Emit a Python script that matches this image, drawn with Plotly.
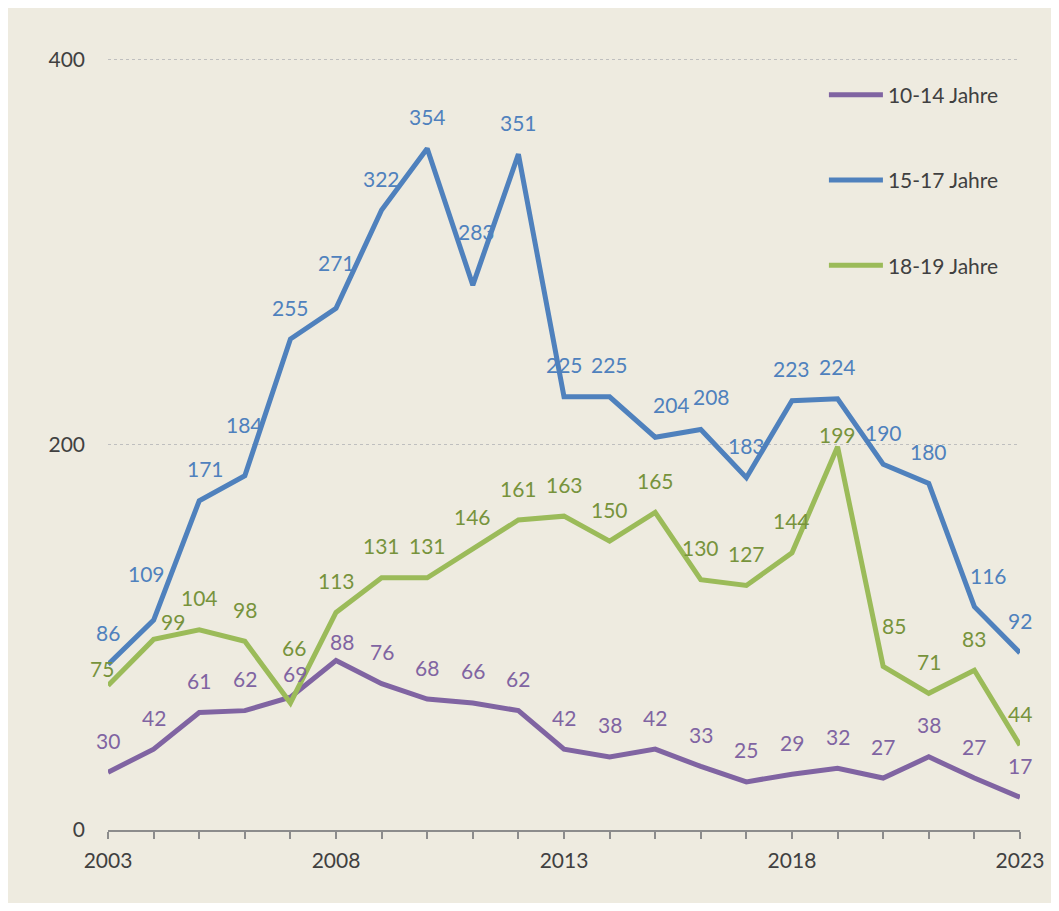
import plotly.graph_objects as go

years = list(range(2003, 2024))
series_names = ["10-14 Jahre", "15-17 Jahre", "18-19 Jahre"]
v_10_14 = [30, 42, 61, 62, 69, 88, 76, 68, 66, 62, 42, 38, 42, 33, 25, 29, 32, 27, 38, 27, 17]
v_15_17 = [86, 109, 171, 184, 255, 271, 322, 354, 283, 351, 225, 225, 204, 208, 183, 223, 224, 190, 180, 116, 92]
v_18_19 = [75, 99, 104, 98, 66, 113, 131, 131, 146, 161, 163, 150, 165, 130, 127, 144, 199, 85, 71, 83, 44]
x_tick_vals = [2003, 2008, 2013, 2018, 2023]
y_tick_vals = [0, 200, 400]

# styling
line_colors = ["#8064A2", "#4F81BD", "#9BBB59"]
text_colors = ["#8064A2", "#4F81BD", "#77933C"]
FONT = "Lato"
LABEL_SIZE = 21

# label offsets in pixels (dx right, dy up) per point
off_10_14 = [(0, 32)] * 21
off_10_14[4] = (5, 24)
off_10_14[5] = (6, 19)
off_15_17 = [(0, 32)] * 21
off_15_17[1] = (-7, 47)
off_15_17[2] = (6, 32)
off_15_17[3] = (0, 51)
off_15_17[5] = (0, 46)
off_15_17[8] = (4, 54)
off_15_17[12] = (16, 33)
off_15_17[13] = (11, 33)
off_15_17[19] = (14, 31)
off_18_19 = [(0, 32)] * 21
off_18_19[0] = (-6, 17)
off_18_19[1] = (19, 18)
off_18_19[4] = (4, 55)
off_18_19[16] = (0, 12)
off_18_19[17] = (11, 41)

all_vals = [v_10_14, v_15_17, v_18_19]
all_offs = [off_10_14, off_15_17, off_18_19]

fig = go.Figure()
annotations = []
for i, (name, vals) in enumerate(zip(series_names, all_vals)):
    fig.add_trace(go.Scatter(
        x=years, y=vals, mode="lines", name=name,
        legendgroup=name,
        line=dict(color=line_colors[i], width=5),
        hoverinfo="skip",
    ))
    for x, v, (dx, dy) in zip(years, vals, all_offs[i]):
        annotations.append(dict(
            x=x, y=v, text=str(v), showarrow=False,
            xshift=dx, yshift=dy,
            font=dict(family=FONT, size=LABEL_SIZE, color=text_colors[i]),
        ))

fig.update_layout(
    width=1043, height=895,
    margin=dict(l=100, r=31, t=48, b=73),
    paper_bgcolor="#EEEBE0",
    plot_bgcolor="#EEEBE0",
    font=dict(family=FONT, size=LABEL_SIZE, color="#404040"),
    annotations=annotations,
    showlegend=True,
    legend=dict(
        x=0.785, y=0.976, xanchor="left", yanchor="top",
        bgcolor="#EEEBE0",
        traceorder="grouped",
        tracegroupgap=55,
        itemwidth=54,
        font=dict(family=FONT, size=LABEL_SIZE, color="#404040"),
    ),
    xaxis=dict(
        range=[2002.999, 2023.001],
        automargin=False,
        tickvals=x_tick_vals,
        ticks="outside", ticklen=7, tickwidth=2, tickcolor="#8C8C8C",
        minor=dict(dtick=1, ticks="outside", ticklen=7, tickwidth=2, tickcolor="#8C8C8C", showgrid=False),
        showline=True, linecolor="#8C8C8C", linewidth=2,
        showgrid=False, zeroline=False,
        ticklabelstandoff=4,
    ),
    yaxis=dict(
        range=[0, 402],
        automargin=False,
        tickvals=y_tick_vals,
        showgrid=True, gridcolor="#BFBFBF", gridwidth=1, griddash="dot",
        zeroline=False, showline=False, ticks="",
        ticklabelstandoff=22,
    ),
)

fig.write_html("out.html")
